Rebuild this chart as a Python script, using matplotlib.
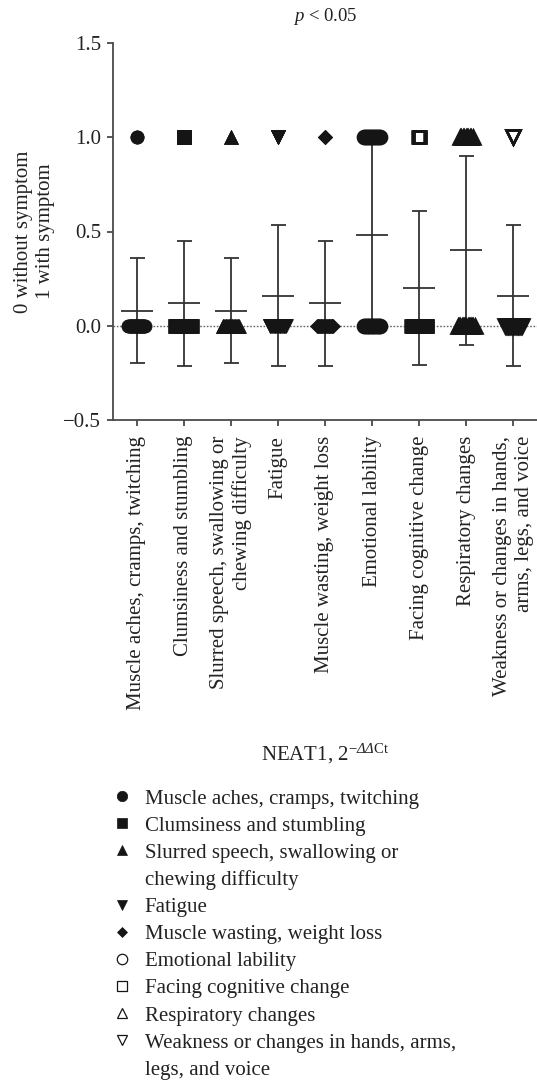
import numpy as np
import matplotlib

matplotlib.use('Agg')

import matplotlib.pyplot as plt
from matplotlib.lines import Line2D

plt.rcParams['font.family'] = ['Liberation Serif', 'DejaVu Serif']
plt.rcParams['mathtext.fontset'] = 'custom'
plt.rcParams['mathtext.rm'] = 'Liberation Serif'
plt.rcParams['mathtext.it'] = 'Liberation Serif:italic'
plt.rcParams['mathtext.sf'] = 'Liberation Serif:italic'  # slanted capital Greek

'''Symptom groups, 25 patients each'''

symptoms = [
	'Muscle aches, cramps, twitching',
	'Clumsiness and stumbling',
	'Slurred speech, swallowing or\nchewing difficulty',
	'Fatigue',
	'Muscle wasting, weight loss',
	'Emotional lability',
	'Facing cognitive change',
	'Respiratory changes',
	'Weakness or changes in hands,\narms, legs, and voice',
]
n_patients  = 25
with_sympt  = [2, 3, 2, 4, 3, 12, 5, 10, 4]   # patients scored 1
markers     = ['o', 's', '^', 'v', 'D', 'o', 's', '^', 'v']
filled      = [True, True, True, True, True, False, False, False, False]
msizes      = [9.5, 9.5, 9.5, 9.5, 7.0, 9.5, 9.0, 9.5, 9.5]

legend_rows = [
	('Muscle aches, cramps, twitching', 0),
	('Clumsiness and stumbling', 1),
	('Slurred speech, swallowing or', 2),
	('chewing difficulty', None),
	('Fatigue', 3),
	('Muscle wasting, weight loss', 4),
	('Emotional lability', 5),
	('Facing cognitive change', 6),
	('Respiratory changes', 7),
	('Weakness or changes in hands, arms,', 8),
	('legs, and voice', None),
]

ink   = '#151515'
grey  = '#333333'
axcol = '#4a4a4a'
txt   = '#222222'
fs    = 15


def spread(n):
	# horizontal spread of overlapping points, in category units
	span = np.clip((n - 4) * 0.045, 0, 0.35)
	if n < 2:
		return np.zeros(n)
	return np.linspace(-span / 2, span / 2, n)


fig = plt.figure(figsize=(5.37, 10.81), dpi=100)
ax = fig.add_axes([113/537, 1 - 420/1081, 1 - 113/537, (420 - 43)/1081])

ax.axhline(0, color='#666666', lw=1.0, ls=(0, (1.2, 1.2)), zorder=1)

for i, k in enumerate(with_sympt):
	scores = np.r_[np.zeros(n_patients - k), np.ones(k)]
	mean = scores.mean()
	sd = scores.std(ddof=1)

	ax.errorbar(i, mean, yerr=sd, fmt='none', ecolor=grey, elinewidth=1.3,
		capsize=5.4, capthick=1.3, zorder=2)
	ax.plot(i, mean, marker='_', ms=23, mew=1.3, color=grey, zorder=2)

	if filled[i]:
		style = dict(mfc=ink, mec=ink, mew=0.5)
	else:
		style = dict(mfc='none', mec=ink, mew=1.8)
	for val, n in ((0, n_patients - k), (1, k)):
		ax.plot(i + spread(n), np.full(n, val), linestyle='none',
			marker=markers[i], ms=msizes[i], zorder=3, **style)

ax.set_xlim(-0.5, 8.5)
ax.set_ylim(-0.5, 1.5)
ax.set_yticks([-0.5, 0.0, 0.5, 1.0, 1.5])
ax.set_yticklabels(['\u22120.5', '0.0', '0.5', '1.0', '1.5'])
ax.set_xticks(range(len(symptoms)))
ax.set_xticklabels(symptoms, rotation=90, multialignment='right', fontsize=fs)

for s in ['top', 'right']:
	ax.spines[s].set_visible(False)
for s in ['left', 'bottom']:
	ax.spines[s].set_color(axcol)
	ax.spines[s].set_linewidth(1.3)
ax.tick_params(axis='both', colors=axcol, width=1.3, length=4.5, labelcolor=txt)
ax.tick_params(axis='y', labelsize=15, pad=4)
ax.tick_params(axis='x', pad=7)

ax.set_ylabel('0 without symptom\n1 with symptom', fontsize=fs, labelpad=6, color=txt)
ax.set_xlabel(r'NEAT1, 2$^{-\mathsf{ΔΔ}\mathrm{Ct}}$', fontsize=fs, labelpad=23, color=txt)
ax.set_title(r'$p$ < 0.05', fontsize=13.5, pad=16, color=txt)

handles, labels = [], []
for text, idx in legend_rows:
	if idx is None:
		handles.append(Line2D([], [], linestyle='none', marker='None'))
	elif filled[idx]:
		handles.append(Line2D([], [], linestyle='none', marker=markers[idx],
			ms=7.5 if markers[idx] != 'D' else 5.5, mfc=ink, mec=ink, mew=0.5))
	else:
		handles.append(Line2D([], [], linestyle='none', marker=markers[idx],
			ms=7.5, mfc='none', mec=ink, mew=0.9))
	labels.append(text)

fig.legend(handles, labels, loc='upper left', bbox_to_anchor=(113/537, 1 - 789/1081),
	frameon=False, fontsize=fs, handlelength=0.9, handletextpad=0.62,
	labelspacing=0.36, borderpad=0, borderaxespad=0, labelcolor=txt)

fig.savefig('out.png', dpi=100)
